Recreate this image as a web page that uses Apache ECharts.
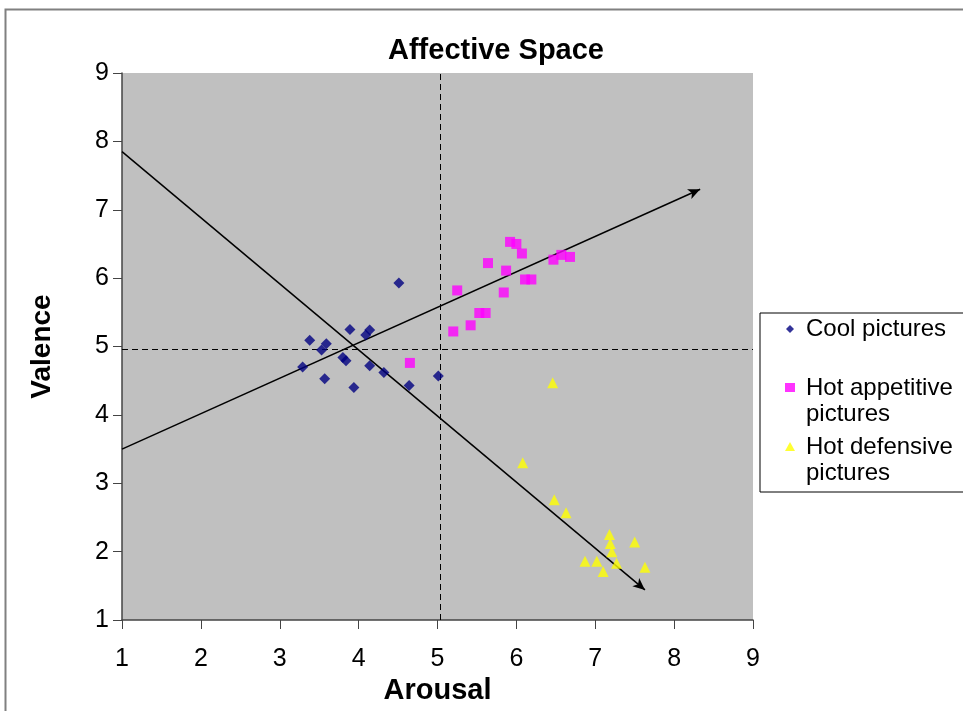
<!DOCTYPE html>
<html>
<head>
<meta charset="utf-8">
<script src="https://cdn.jsdelivr.net/npm/echarts@6/dist/echarts.min.js"></script>
<style>
html,body{margin:0;padding:0;background:#fff;}
#c{width:963px;height:711px;}
</style>
</head>
<body>
<div id="c"></div>
<script>
// Data (Arousal, Valence)
var coolPictures = [
  [4.51,5.93],[3.89,5.25],[4.14,5.24],[4.09,5.17],[3.38,5.09],[3.59,5.04],
  [3.53,4.95],[3.80,4.84],[3.84,4.79],[3.29,4.70],[4.14,4.72],[4.32,4.62],
  [3.57,4.53],[5.01,4.57],[3.94,4.40],[4.64,4.43]
];
var hotAppetitive = [
  [5.92,6.53],[6.00,6.50],[6.07,6.36],[5.64,6.22],[5.87,6.11],[6.11,5.98],
  [6.19,5.98],[6.47,6.27],[6.57,6.34],[6.68,6.31],[5.25,5.82],[5.84,5.79],
  [5.53,5.49],[5.61,5.49],[5.42,5.31],[5.20,5.22],[4.65,4.76]
];
var hotDefensive = [
  [6.46,4.47],[6.08,3.30],[6.48,2.76],[6.63,2.57],[7.18,2.25],[7.50,2.14],
  [7.19,2.12],[7.21,2.00],[6.87,1.86],[7.02,1.86],[7.27,1.83],[7.10,1.71],
  [7.63,1.77]
];
var arrowDown = [[1,7.85],[7.63,1.44]];
var arrowUp = [[1,3.50],[8.33,7.30]];
var meanArousal = 5.04;
var meanValence = 4.96;
var xTicks = [1,2,3,4,5,6,7,8,9];
var yTicks = [1,2,3,4,5,6,7,8,9];
var seriesNames = ['Cool pictures','Hot appetitive pictures','Hot defensive pictures'];
var legendLabels = ['Cool pictures\n ','Hot appetitive\npictures','Hot defensive\npictures'];

var FONT = '"Liberation Sans", Arial, sans-serif';
// tall legend icons so the mark sits beside the first text line
var ICON_DIAMOND = 'path://M5,1L9,5L5,9L1,5Z M0,0 M10,36';
var ICON_SQUARE = 'path://M0,0L10,0L10,9L0,9Z M10,36';
var ICON_TRIANGLE = 'path://M5,0L10,9L0,9Z M10,36';

var chart = echarts.init(document.getElementById('c'), null, {renderer:'canvas'});
chart.setOption({
  backgroundColor:'#ffffff',
  animation:false,
  title:{
    text:'Affective Space', left:491, top:31, textAlign:'center',
    textStyle:{fontFamily:FONT, fontSize:29, fontWeight:'bold', color:'#000'}
  },
  graphic:[
    {type:'rect', shape:{x:5.5,y:9.5,width:970,height:720}, style:{fill:'none', stroke:'#808080', lineWidth:2}, z:-1}
  ],
  grid:{left:122, top:73, right:210, bottom:91, show:true, backgroundColor:'#c0c0c0', borderWidth:0},
  xAxis:{
    type:'value', min:xTicks[0], max:xTicks[xTicks.length-1], interval:1,
    name:'Arousal', nameLocation:'middle', nameGap:56,
    nameTextStyle:{fontFamily:FONT, fontSize:29, fontWeight:'bold', color:'#000'},
    axisLine:{show:true, lineStyle:{color:'#444', width:1.5}},
    axisTick:{show:true, length:9, lineStyle:{color:'#444'}},
    axisLabel:{fontFamily:FONT, fontSize:25, color:'#000', margin:27},
    splitLine:{show:false}
  },
  yAxis:{
    type:'value', min:yTicks[0], max:yTicks[yTicks.length-1], interval:1,
    name:'Valence', nameLocation:'middle', nameGap:66, nameRotate:90,
    nameTextStyle:{fontFamily:FONT, fontSize:28, fontWeight:'bold', color:'#000'},
    axisLine:{show:true, lineStyle:{color:'#444', width:1.5}},
    axisTick:{show:true, length:9, lineStyle:{color:'#444'}},
    axisLabel:{fontFamily:FONT, fontSize:25, color:'#000', margin:13},
    splitLine:{show:false}
  },
  legend:{
    orient:'vertical', left:760, top:313,
    padding:[3,40,6,25],
    backgroundColor:'#fff', borderColor:'#000', borderWidth:1,
    itemGap:7, itemWidth:10, itemHeight:36,
    textStyle:{fontFamily:FONT, fontSize:24, color:'#000', lineHeight:26, padding:[0,0,0,6]},
    formatter:function(name){ return legendLabels[seriesNames.indexOf(name)]; },
    data:[
      {name:seriesNames[0], icon:ICON_DIAMOND},
      {name:seriesNames[1], icon:ICON_SQUARE},
      {name:seriesNames[2], icon:ICON_TRIANGLE}
    ]
  },
  series:[
    {
      name:seriesNames[0], type:'scatter', data:coolPictures,
      symbol:'diamond', symbolSize:11, itemStyle:{color:'#000080'}, z:5,
      markLine:{
        silent:true, symbol:['none','none'], label:{show:false},
        lineStyle:{color:'#000', type:[6,4], width:1},
        data:[ {xAxis:meanArousal}, {yAxis:meanValence} ]
      }
    },
    {
      name:seriesNames[1], type:'scatter', data:hotAppetitive,
      symbol:'rect', symbolSize:10, itemStyle:{color:'#ff00ff'}, z:5,
      markLine:{
        silent:true, symbol:['none','arrow'], symbolSize:[8,12], label:{show:false},
        lineStyle:{color:'#000', type:'solid', width:1.5},
        data:[
          [{coord:arrowDown[0]},{coord:arrowDown[1]}],
          [{coord:arrowUp[0]},{coord:arrowUp[1]}]
        ]
      }
    },
    {
      name:seriesNames[2], type:'scatter', data:hotDefensive,
      symbol:'triangle', symbolSize:11, itemStyle:{color:'#ffff00'}, z:5
    }
  ]
});
</script>
</body>
</html>
